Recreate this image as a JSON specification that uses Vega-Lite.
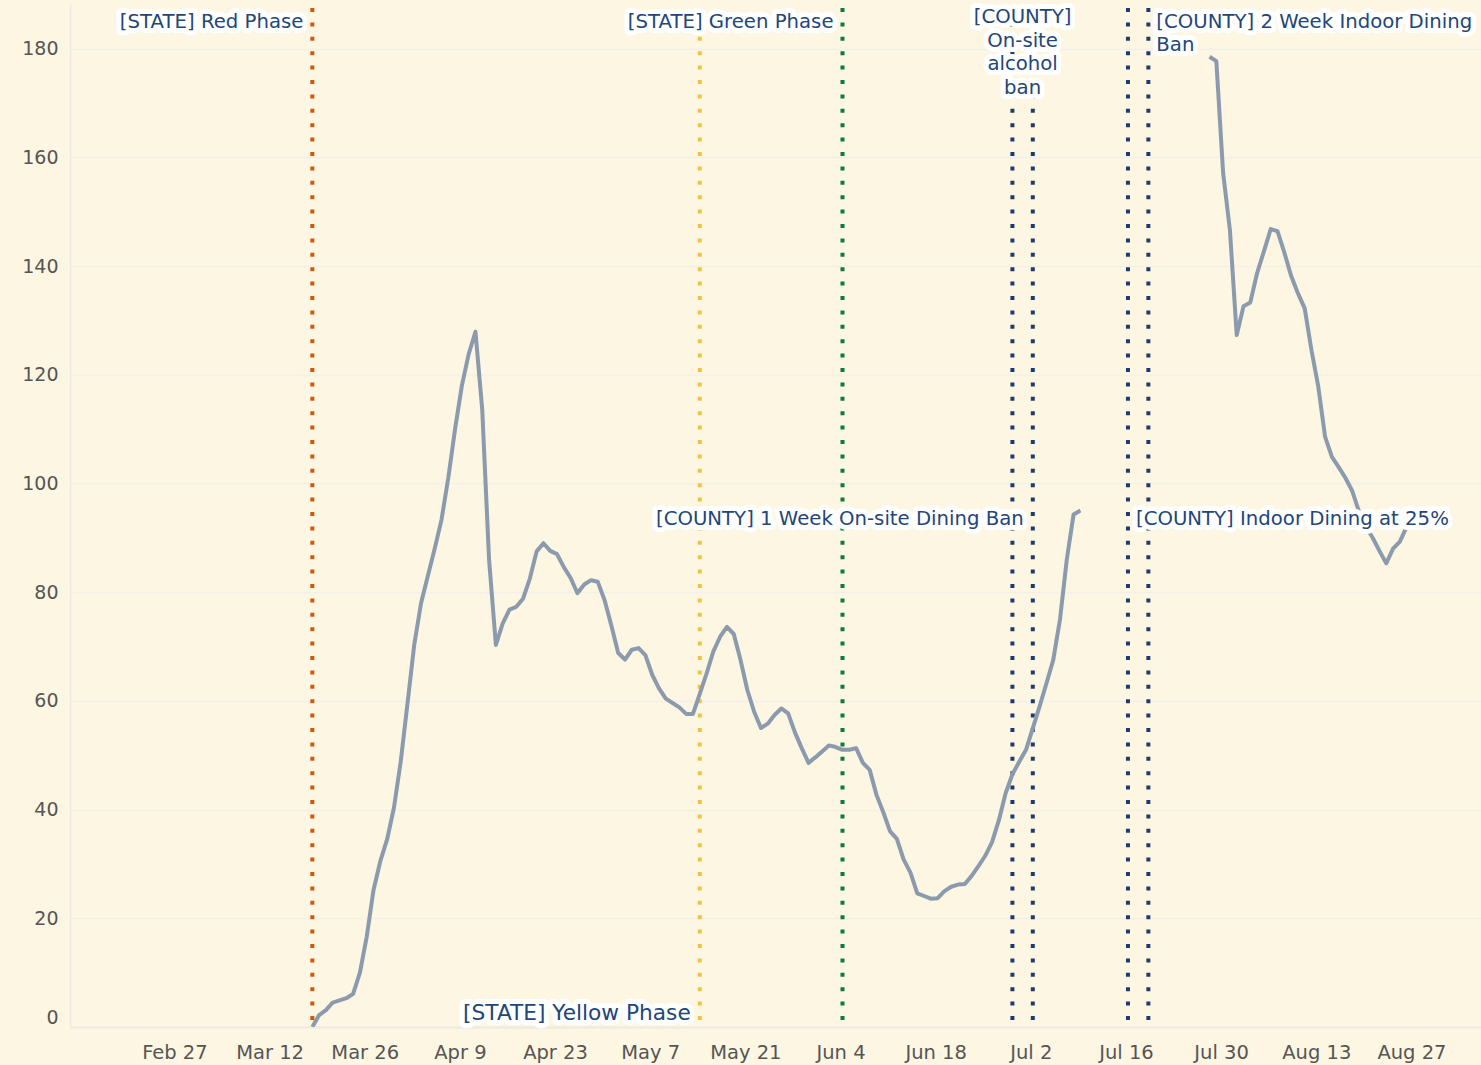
{
  "$schema": "https://vega.github.io/schema/vega-lite/v6.json",
  "width": 1411,
  "height": 1023,
  "autosize": {"type": "none"},
  "padding": {"left": 70, "top": 4, "right": 0, "bottom": 38},
  "background": "#fdf6e3",
  "config": {"view": {"stroke": null}, "font": "DejaVu Sans"},
  "datasets": {
    "series": [
      {"date": "2020-03-18", "value": 0, "seg": "a"},
      {"date": "2020-03-19", "value": 2.2, "seg": "a"},
      {"date": "2020-03-20", "value": 3.1, "seg": "a"},
      {"date": "2020-03-21", "value": 4.5, "seg": "a"},
      {"date": "2020-03-22", "value": 4.9, "seg": "a"},
      {"date": "2020-03-23", "value": 5.3, "seg": "a"},
      {"date": "2020-03-24", "value": 6.1, "seg": "a"},
      {"date": "2020-03-25", "value": 10, "seg": "a"},
      {"date": "2020-03-26", "value": 16.6, "seg": "a"},
      {"date": "2020-03-27", "value": 25.2, "seg": "a"},
      {"date": "2020-03-28", "value": 30.5, "seg": "a"},
      {"date": "2020-03-29", "value": 34.5, "seg": "a"},
      {"date": "2020-03-30", "value": 40.3, "seg": "a"},
      {"date": "2020-03-31", "value": 48.8, "seg": "a"},
      {"date": "2020-04-01", "value": 59.5, "seg": "a"},
      {"date": "2020-04-02", "value": 70.4, "seg": "a"},
      {"date": "2020-04-03", "value": 78, "seg": "a"},
      {"date": "2020-04-04", "value": 83, "seg": "a"},
      {"date": "2020-04-05", "value": 88, "seg": "a"},
      {"date": "2020-04-06", "value": 93.3, "seg": "a"},
      {"date": "2020-04-07", "value": 101, "seg": "a"},
      {"date": "2020-04-08", "value": 110, "seg": "a"},
      {"date": "2020-04-09", "value": 118, "seg": "a"},
      {"date": "2020-04-10", "value": 123.8, "seg": "a"},
      {"date": "2020-04-11", "value": 127.9, "seg": "a"},
      {"date": "2020-04-12", "value": 113.5, "seg": "a"},
      {"date": "2020-04-13", "value": 86, "seg": "a"},
      {"date": "2020-04-14", "value": 70.3, "seg": "a"},
      {"date": "2020-04-15", "value": 74.2, "seg": "a"},
      {"date": "2020-04-16", "value": 76.8, "seg": "a"},
      {"date": "2020-04-17", "value": 77.3, "seg": "a"},
      {"date": "2020-04-18", "value": 78.8, "seg": "a"},
      {"date": "2020-04-19", "value": 82.5, "seg": "a"},
      {"date": "2020-04-20", "value": 87.5, "seg": "a"},
      {"date": "2020-04-21", "value": 89, "seg": "a"},
      {"date": "2020-04-22", "value": 87.6, "seg": "a"},
      {"date": "2020-04-23", "value": 87, "seg": "a"},
      {"date": "2020-04-24", "value": 84.6, "seg": "a"},
      {"date": "2020-04-25", "value": 82.6, "seg": "a"},
      {"date": "2020-04-26", "value": 79.8, "seg": "a"},
      {"date": "2020-04-27", "value": 81.4, "seg": "a"},
      {"date": "2020-04-28", "value": 82.2, "seg": "a"},
      {"date": "2020-04-29", "value": 81.9, "seg": "a"},
      {"date": "2020-04-30", "value": 78.5, "seg": "a"},
      {"date": "2020-05-01", "value": 73.8, "seg": "a"},
      {"date": "2020-05-02", "value": 68.8, "seg": "a"},
      {"date": "2020-05-03", "value": 67.6, "seg": "a"},
      {"date": "2020-05-04", "value": 69.4, "seg": "a"},
      {"date": "2020-05-05", "value": 69.7, "seg": "a"},
      {"date": "2020-05-06", "value": 68.4, "seg": "a"},
      {"date": "2020-05-07", "value": 64.8, "seg": "a"},
      {"date": "2020-05-08", "value": 62.3, "seg": "a"},
      {"date": "2020-05-09", "value": 60.4, "seg": "a"},
      {"date": "2020-05-10", "value": 59.6, "seg": "a"},
      {"date": "2020-05-11", "value": 58.8, "seg": "a"},
      {"date": "2020-05-12", "value": 57.6, "seg": "a"},
      {"date": "2020-05-13", "value": 57.6, "seg": "a"},
      {"date": "2020-05-14", "value": 61.3, "seg": "a"},
      {"date": "2020-05-15", "value": 65, "seg": "a"},
      {"date": "2020-05-16", "value": 69.1, "seg": "a"},
      {"date": "2020-05-17", "value": 71.8, "seg": "a"},
      {"date": "2020-05-18", "value": 73.6, "seg": "a"},
      {"date": "2020-05-19", "value": 72.3, "seg": "a"},
      {"date": "2020-05-20", "value": 67.5, "seg": "a"},
      {"date": "2020-05-21", "value": 62, "seg": "a"},
      {"date": "2020-05-22", "value": 58, "seg": "a"},
      {"date": "2020-05-23", "value": 55, "seg": "a"},
      {"date": "2020-05-24", "value": 55.8, "seg": "a"},
      {"date": "2020-05-25", "value": 57.4, "seg": "a"},
      {"date": "2020-05-26", "value": 58.6, "seg": "a"},
      {"date": "2020-05-27", "value": 57.7, "seg": "a"},
      {"date": "2020-05-28", "value": 54.2, "seg": "a"},
      {"date": "2020-05-29", "value": 51.3, "seg": "a"},
      {"date": "2020-05-30", "value": 48.6, "seg": "a"},
      {"date": "2020-05-31", "value": 49.6, "seg": "a"},
      {"date": "2020-06-01", "value": 50.7, "seg": "a"},
      {"date": "2020-06-02", "value": 51.8, "seg": "a"},
      {"date": "2020-06-03", "value": 51.5, "seg": "a"},
      {"date": "2020-06-04", "value": 51, "seg": "a"},
      {"date": "2020-06-05", "value": 51, "seg": "a"},
      {"date": "2020-06-06", "value": 51.3, "seg": "a"},
      {"date": "2020-06-07", "value": 48.6, "seg": "a"},
      {"date": "2020-06-08", "value": 47.3, "seg": "a"},
      {"date": "2020-06-09", "value": 42.7, "seg": "a"},
      {"date": "2020-06-10", "value": 39.5, "seg": "a"},
      {"date": "2020-06-11", "value": 36, "seg": "a"},
      {"date": "2020-06-12", "value": 34.6, "seg": "a"},
      {"date": "2020-06-13", "value": 30.8, "seg": "a"},
      {"date": "2020-06-14", "value": 28.4, "seg": "a"},
      {"date": "2020-06-15", "value": 24.6, "seg": "a"},
      {"date": "2020-06-16", "value": 24.1, "seg": "a"},
      {"date": "2020-06-17", "value": 23.6, "seg": "a"},
      {"date": "2020-06-18", "value": 23.7, "seg": "a"},
      {"date": "2020-06-19", "value": 25, "seg": "a"},
      {"date": "2020-06-20", "value": 25.8, "seg": "a"},
      {"date": "2020-06-21", "value": 26.2, "seg": "a"},
      {"date": "2020-06-22", "value": 26.3, "seg": "a"},
      {"date": "2020-06-23", "value": 27.8, "seg": "a"},
      {"date": "2020-06-24", "value": 29.6, "seg": "a"},
      {"date": "2020-06-25", "value": 31.5, "seg": "a"},
      {"date": "2020-06-26", "value": 34, "seg": "a"},
      {"date": "2020-06-27", "value": 38, "seg": "a"},
      {"date": "2020-06-28", "value": 43, "seg": "a"},
      {"date": "2020-06-29", "value": 46.5, "seg": "a"},
      {"date": "2020-06-30", "value": 48.8, "seg": "a"},
      {"date": "2020-07-01", "value": 51, "seg": "a"},
      {"date": "2020-07-02", "value": 55, "seg": "a"},
      {"date": "2020-07-03", "value": 59, "seg": "a"},
      {"date": "2020-07-04", "value": 63.2, "seg": "a"},
      {"date": "2020-07-05", "value": 67.5, "seg": "a"},
      {"date": "2020-07-06", "value": 75, "seg": "a"},
      {"date": "2020-07-07", "value": 86, "seg": "a"},
      {"date": "2020-07-08", "value": 94.3, "seg": "a"},
      {"date": "2020-07-09", "value": 95, "seg": "a"},
      {"date": "2020-07-28", "value": 178.5, "seg": "b"},
      {"date": "2020-07-29", "value": 177.7, "seg": "b"},
      {"date": "2020-07-30", "value": 157.1, "seg": "b"},
      {"date": "2020-07-31", "value": 146.6, "seg": "b"},
      {"date": "2020-08-01", "value": 127.3, "seg": "b"},
      {"date": "2020-08-02", "value": 132.6, "seg": "b"},
      {"date": "2020-08-03", "value": 133.3, "seg": "b"},
      {"date": "2020-08-04", "value": 138.7, "seg": "b"},
      {"date": "2020-08-05", "value": 142.7, "seg": "b"},
      {"date": "2020-08-06", "value": 146.8, "seg": "b"},
      {"date": "2020-08-07", "value": 146.4, "seg": "b"},
      {"date": "2020-08-08", "value": 142.5, "seg": "b"},
      {"date": "2020-08-09", "value": 138.2, "seg": "b"},
      {"date": "2020-08-10", "value": 135, "seg": "b"},
      {"date": "2020-08-11", "value": 132.2, "seg": "b"},
      {"date": "2020-08-12", "value": 124.5, "seg": "b"},
      {"date": "2020-08-13", "value": 117.8, "seg": "b"},
      {"date": "2020-08-14", "value": 108.6, "seg": "b"},
      {"date": "2020-08-15", "value": 104.9, "seg": "b"},
      {"date": "2020-08-16", "value": 103, "seg": "b"},
      {"date": "2020-08-17", "value": 101, "seg": "b"},
      {"date": "2020-08-18", "value": 98.6, "seg": "b"},
      {"date": "2020-08-19", "value": 94.8, "seg": "b"},
      {"date": "2020-08-20", "value": 92, "seg": "b"},
      {"date": "2020-08-21", "value": 90, "seg": "b"},
      {"date": "2020-08-22", "value": 87.6, "seg": "b"},
      {"date": "2020-08-23", "value": 85.3, "seg": "b"},
      {"date": "2020-08-24", "value": 88, "seg": "b"},
      {"date": "2020-08-25", "value": 89.3, "seg": "b"},
      {"date": "2020-08-26", "value": 92, "seg": "b"}
    ],
    "events": [
      {"date": "2020-03-18", "event": "State Red"},
      {"date": "2020-05-14", "event": "State Yellow"},
      {"date": "2020-06-04", "event": "State Green"},
      {"date": "2020-06-29", "event": "County"},
      {"date": "2020-07-02", "event": "County"},
      {"date": "2020-07-16", "event": "County"},
      {"date": "2020-07-19", "event": "County"}
    ],
    "notesRight": [
      {"date": "2020-03-18", "value": 184.9, "label": "[STATE] Red Phase"},
      {"date": "2020-06-04", "value": 184.9, "label": "[STATE] Green Phase"},
      {"date": "2020-07-02", "value": 93.5, "label": "[COUNTY] 1 Week On-site Dining Ban"}
    ],
    "notesBottom": [
      {"date": "2020-05-14", "value": 2.6, "label": "[STATE] Yellow Phase"}
    ],
    "notesLeft": [
      {"date": "2020-07-19", "value": 184.9, "label": "[COUNTY] 2 Week Indoor Dining\nBan"},
      {"date": "2020-07-16", "value": 93.5, "label": "[COUNTY] Indoor Dining at 25%"}
    ],
    "notesCenter": [
      {"date": "2020-06-30T12:00:00Z", "value": 185.8, "label": "[COUNTY]\nOn-site\nalcohol\nban"}
    ]
  },
  "layer": [
    {
      "data": {"name": "events"},
      "mark": {"type": "rule", "strokeWidth": 4, "strokeDash": [4, 10.4], "strokeDashOffset": -4},
      "encoding": {
        "x": {
          "field": "date", "type": "temporal", "title": null,
          "scale": {"type": "utc", "domain": [
            {"year": 2020, "month": 2, "date": 11, "hours": 8, "minutes": 18, "utc": true},
            {"year": 2020, "month": 9, "date": 5, "hours": 22, "minutes": 34, "utc": true}
          ]},
          "axis": {
            "values": [
              {"year": 2020, "month": 2, "date": 27, "utc": true},
              {"year": 2020, "month": 3, "date": 12, "utc": true},
              {"year": 2020, "month": 3, "date": 26, "utc": true},
              {"year": 2020, "month": 4, "date": 9, "utc": true},
              {"year": 2020, "month": 4, "date": 23, "utc": true},
              {"year": 2020, "month": 5, "date": 7, "utc": true},
              {"year": 2020, "month": 5, "date": 21, "utc": true},
              {"year": 2020, "month": 6, "date": 4, "utc": true},
              {"year": 2020, "month": 6, "date": 18, "utc": true},
              {"year": 2020, "month": 7, "date": 2, "utc": true},
              {"year": 2020, "month": 7, "date": 16, "utc": true},
              {"year": 2020, "month": 7, "date": 30, "utc": true},
              {"year": 2020, "month": 8, "date": 13, "utc": true},
              {"year": 2020, "month": 8, "date": 27, "utc": true}
            ],
            "format": "%b %-d",
            "labelFont": "DejaVu Sans",
            "labelFontSize": 19.5,
            "labelColor": "#555555",
            "labelPadding": 16,
            "labelOffset": -2,
            "labelFlush": false,
            "labelOverlap": false,
            "ticks": false,
            "grid": false,
            "domain": true,
            "domainColor": "#eeeae0",
            "domainWidth": 2
          }
        },
        "color": {
          "field": "event", "type": "nominal", "legend": null,
          "scale": {"domain": ["State Red", "State Yellow", "State Green", "County"],
                    "range": ["#cc5a0a", "#efc53f", "#0d7a3e", "#1d3b6f"]}
        }
      }
    },
    {
      "data": {"name": "series"},
      "mark": {"type": "line", "color": "#8b9bad", "strokeWidth": 4, "strokeJoin": "round", "clip": true},
      "encoding": {
        "x": {"field": "date", "type": "temporal"},
        "y": {
          "field": "value", "type": "quantitative", "title": null,
          "scale": {"domain": [0, 188.2], "nice": false, "zero": true},
          "axis": {
            "values": [0, 20, 40, 60, 80, 100, 120, 140, 160, 180],
            "labelFont": "DejaVu Sans",
            "labelFontSize": 19,
            "labelColor": "#555555",
            "labelPadding": 12,
            "labelFlush": true,
            "ticks": false,
            "grid": true,
            "gridColor": "#f3f0e9",
            "gridWidth": 1.5,
            "domain": true,
            "domainColor": "#eeeae0",
            "domainWidth": 1.5
          }
        },
        "detail": {"field": "seg", "type": "nominal"}
      }
    },
    {
      "data": {"name": "notesRight"},
      "mark": {"type": "text", "align": "right", "baseline": "middle", "dx": -9, "font": "DejaVu Sans", "fontSize": 19.7, "color": "#ffffff", "stroke": "#ffffff", "strokeWidth": 10, "strokeJoin": "round"},
      "encoding": {
        "x": {"field": "date", "type": "temporal"},
        "y": {"field": "value", "type": "quantitative"},
        "text": {"field": "label"}
      }
    },
    {
      "data": {"name": "notesBottom"},
      "mark": {"type": "text", "align": "right", "baseline": "middle", "dx": -9, "font": "DejaVu Sans", "fontSize": 21.7, "color": "#ffffff", "stroke": "#ffffff", "strokeWidth": 10, "strokeJoin": "round"},
      "encoding": {
        "x": {"field": "date", "type": "temporal"},
        "y": {"field": "value", "type": "quantitative"},
        "text": {"field": "label"}
      }
    },
    {
      "data": {"name": "notesLeft"},
      "mark": {"type": "text", "align": "left", "baseline": "middle", "dx": 8, "font": "DejaVu Sans", "fontSize": 19.7, "lineBreak": "\n", "lineHeight": 23.5, "color": "#ffffff", "stroke": "#ffffff", "strokeWidth": 10, "strokeJoin": "round"},
      "encoding": {
        "x": {"field": "date", "type": "temporal"},
        "y": {"field": "value", "type": "quantitative"},
        "text": {"field": "label"}
      }
    },
    {
      "data": {"name": "notesCenter"},
      "mark": {"type": "text", "align": "center", "baseline": "middle", "font": "DejaVu Sans", "fontSize": 19.7, "lineBreak": "\n", "lineHeight": 23.5, "color": "#ffffff", "stroke": "#ffffff", "strokeWidth": 10, "strokeJoin": "round"},
      "encoding": {
        "x": {"field": "date", "type": "temporal"},
        "y": {"field": "value", "type": "quantitative"},
        "text": {"field": "label"}
      }
    },
    {
      "data": {"name": "notesRight"},
      "mark": {"type": "text", "align": "right", "baseline": "middle", "dx": -9, "font": "DejaVu Sans", "fontSize": 19.7, "color": "#234678"},
      "encoding": {
        "x": {"field": "date", "type": "temporal"},
        "y": {"field": "value", "type": "quantitative"},
        "text": {"field": "label"}
      }
    },
    {
      "data": {"name": "notesBottom"},
      "mark": {"type": "text", "align": "right", "baseline": "middle", "dx": -9, "font": "DejaVu Sans", "fontSize": 21.7, "color": "#234678"},
      "encoding": {
        "x": {"field": "date", "type": "temporal"},
        "y": {"field": "value", "type": "quantitative"},
        "text": {"field": "label"}
      }
    },
    {
      "data": {"name": "notesLeft"},
      "mark": {"type": "text", "align": "left", "baseline": "middle", "dx": 8, "font": "DejaVu Sans", "fontSize": 19.7, "lineBreak": "\n", "lineHeight": 23.5, "color": "#234678"},
      "encoding": {
        "x": {"field": "date", "type": "temporal"},
        "y": {"field": "value", "type": "quantitative"},
        "text": {"field": "label"}
      }
    },
    {
      "data": {"name": "notesCenter"},
      "mark": {"type": "text", "align": "center", "baseline": "middle", "font": "DejaVu Sans", "fontSize": 19.7, "lineBreak": "\n", "lineHeight": 23.5, "color": "#234678"},
      "encoding": {
        "x": {"field": "date", "type": "temporal"},
        "y": {"field": "value", "type": "quantitative"},
        "text": {"field": "label"}
      }
    }
  ]
}
